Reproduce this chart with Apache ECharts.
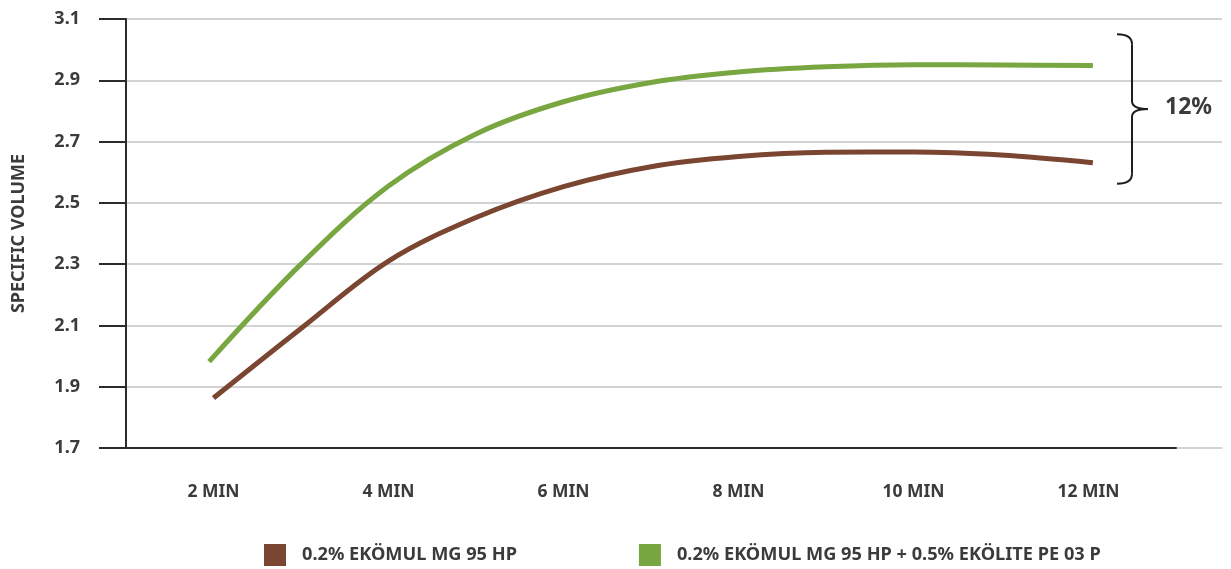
<!DOCTYPE html>
<html>
<head>
<meta charset="utf-8">
<title>Specific volume</title>
<script src="https://cdn.jsdelivr.net/npm/echarts@6/dist/echarts.min.js"></script>
<style>
  html, body { margin: 0; padding: 0; background: #fff; }
  #chart { width: 1231px; height: 569px; }
</style>
</head>
<body>
<div id="chart"></div>
<script>
// 分类标签
const categories = ['2 MIN', '4 MIN', '6 MIN', '8 MIN', '10 MIN', '12 MIN'];
// y 轴刻度
const yTicks = [1.7, 1.9, 2.1, 2.3, 2.5, 2.7, 2.9, 3.1];

// 曲线取样点（分钟）
const brownMinutes = [2.0, 3, 4, 5, 6, 7, 8, 9, 10, 11, 12.05];
const brownValues = [1.863, 2.09, 2.31, 2.452, 2.553, 2.618, 2.651, 2.665, 2.666, 2.656, 2.631];
const greenMinutes = [1.95, 3, 4, 5, 6, 7, 8, 9, 10, 11, 12.05];
const greenValues = [1.982, 2.30, 2.555, 2.725, 2.83, 2.893, 2.927, 2.944, 2.951, 2.95, 2.948];

const brownName = '0.2% EKÖMUL MG 95 HP';
const greenName = '0.2% EKÖMUL MG 95 HP + 0.5% EKÖLITE PE 03 P';

// 括号范围和标注
const bracketTop = 3.05;
const bracketBottom = 2.562;
const bracketLabel = '12%';

const FONT = 'Noto Sans';
const TEXT_COLOR = '#3b3b3b';
const AXIS_COLOR = '#2b2b2b';

const chart = echarts.init(document.getElementById('chart'));

function pairs(xs, ys) {
  return xs.map((x, i) => [x, ys[i]]);
}

chart.setOption({
  animation: false,
  legend: {
    left: 259,
    top: 539,
    icon: 'rect',
    itemWidth: 22,
    itemHeight: 22,
    itemGap: 122,
    textStyle: { fontFamily: FONT, fontWeight: 'bold', fontSize: 18.2, color: TEXT_COLOR, padding: [0, 0, 0, 11] },
    data: [brownName, greenName]
  },
  grid: [
    // 网格线一直画到右边
    { left: 126, right: 9, top: 19, bottom: 121 },
    // 数据区
    { left: 126, right: 55, top: 19, bottom: 121 }
  ],
  xAxis: [
    { gridIndex: 0, type: 'value', min: 0, max: 1, show: false },
    {
      gridIndex: 1,
      type: 'category',
      data: categories,
      boundaryGap: true,
      axisLine: { lineStyle: { color: AXIS_COLOR, width: 2 } },
      axisTick: { length: 16, lineStyle: { color: AXIS_COLOR, width: 2 } },
      axisLabel: { margin: 35, fontFamily: FONT, fontWeight: 'bold', fontSize: 17.5, color: TEXT_COLOR }
    },
    { gridIndex: 1, type: 'value', min: 1, max: 13, show: false }
  ],
  yAxis: [
    {
      gridIndex: 0,
      type: 'value',
      min: 1.7,
      max: 3.1,
      name: 'SPECIFIC VOLUME',
      nameLocation: 'middle',
      nameGap: 98,
      nameTextStyle: { fontFamily: FONT, fontWeight: 'bold', fontSize: 18, color: TEXT_COLOR },
      axisLine: { show: true, lineStyle: { color: AXIS_COLOR, width: 2 } },
      axisTick: { show: true, length: 27, customValues: yTicks, lineStyle: { color: AXIS_COLOR, width: 2 } },
      axisLabel: {
        margin: 46,
        customValues: yTicks,
        formatter: (v) => v.toFixed(1),
        fontFamily: FONT, fontWeight: 'bold', fontSize: 18, color: TEXT_COLOR
      },
      splitLine: { show: true, lineStyle: { color: '#c4c4c4', width: 1.5 } }
    },
    { gridIndex: 1, type: 'value', min: 1.7, max: 3.1, show: false }
  ],
  series: [
    {
      name: brownName,
      type: 'line',
      xAxisIndex: 2,
      yAxisIndex: 1,
      data: pairs(brownMinutes, brownValues),
      smooth: 0.35,
      showSymbol: false,
      lineStyle: { width: 5, color: '#7a4631' },
      itemStyle: { color: '#7a4631' }
    },
    {
      name: greenName,
      type: 'line',
      xAxisIndex: 2,
      yAxisIndex: 1,
      data: pairs(greenMinutes, greenValues),
      smooth: 0.35,
      showSymbol: false,
      lineStyle: { width: 5, color: '#78a640' },
      itemStyle: { color: '#78a640' }
    }
  ]
});

// 右侧括号 + 百分比
const topY = chart.convertToPixel({ yAxisIndex: 1 }, bracketTop);
const botY = chart.convertToPixel({ yAxisIndex: 1 }, bracketBottom);
const midY = (topY + botY) / 2;
const bx = 1132;
const braceStyle = { stroke: '#1e1e1e', lineWidth: 2, fill: null };

function curve(x1, y1, x2, y2, cx, cy) {
  return { type: 'bezierCurve', shape: { x1, y1, x2, y2, cpx1: cx, cpy1: cy }, style: braceStyle };
}
function seg(x1, y1, x2, y2) {
  return { type: 'line', shape: { x1, y1, x2, y2 }, style: braceStyle };
}

chart.setOption({
  graphic: [
    curve(bx - 15, topY, bx, topY + 10, bx, topY),
    seg(bx, topY + 10, bx, midY - 8),
    curve(bx, midY - 8, bx + 16, midY, bx, midY),
    curve(bx + 16, midY, bx, midY + 8, bx, midY),
    seg(bx, midY + 8, bx, botY - 10),
    curve(bx, botY - 10, bx - 15, botY, bx, botY),
    {
      type: 'text',
      x: 1165,
      y: midY - 2,
      style: {
        text: bracketLabel,
        fontFamily: FONT, fontWeight: 'bold', fontSize: 23,
        fill: TEXT_COLOR,
        verticalAlign: 'middle'
      }
    }
  ]
});
</script>
</body>
</html>
